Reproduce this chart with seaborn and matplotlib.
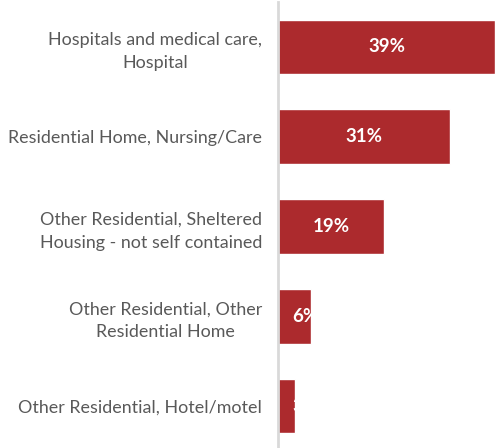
import matplotlib
matplotlib.use("Agg")
import matplotlib.pyplot as plt
import seaborn as sns
import pandas as pd

categories = [
    "Hospitals and medical care,\nHospital",
    "Residential Home, Nursing/Care",
    "Other Residential, Sheltered\nHousing - not self contained",
    "Other Residential, Other\nResidential Home",
    "Other Residential, Hotel/motel",
]
values = [39, 31, 19, 6, 3]
labels = ["39%", "31%", "19%", "6%", "3%"]

sns.set_theme(style="white")
plt.rcParams["font.family"] = ["Lato", "DejaVu Sans"]

df = pd.DataFrame({"category": categories, "share": values})

fig = plt.figure(figsize=(4.95, 4.48), dpi=100)
ax = fig.add_axes([278 / 495, -3 / 448, 1 - 278 / 495, 449 / 448])

sns.barplot(data=df, x="share", y="category", orient="h", color="#ac2a2d",
            saturation=1, width=0.61, ax=ax)

ax.set_xlim(0, 39)
ax.set_ylim(4.5, -0.5)
ax.set_xlabel("")
ax.set_ylabel("")
ax.set_xticks([])
for side in ["top", "right", "bottom"]:
    ax.spines[side].set_visible(False)
ax.spines["left"].set_color("#d9d9d9")
ax.spines["left"].set_linewidth(2)

ax.tick_params(axis="y", length=0, pad=11.5, labelsize=12.9, labelcolor="#595959")
for t in ax.get_yticklabels():
    t.set_multialignment("center")
    t.set_linespacing(1.5)

# value labels in white, clipped to their own bar
for patch, lab, v in zip(ax.patches, labels, values):
    cy = patch.get_y() + patch.get_height() / 2
    if v >= 10:
        txt = ax.text(v / 2, cy, lab, ha="center", va="center", color="white",
                      fontsize=13.5, fontweight="bold")
    else:
        txt = ax.text(2.6, cy, lab, ha="left", va="center", color="white",
                      fontsize=13.5, fontweight="bold")
    txt.set_clip_path(patch)

fig.savefig("out.png", dpi=100)
